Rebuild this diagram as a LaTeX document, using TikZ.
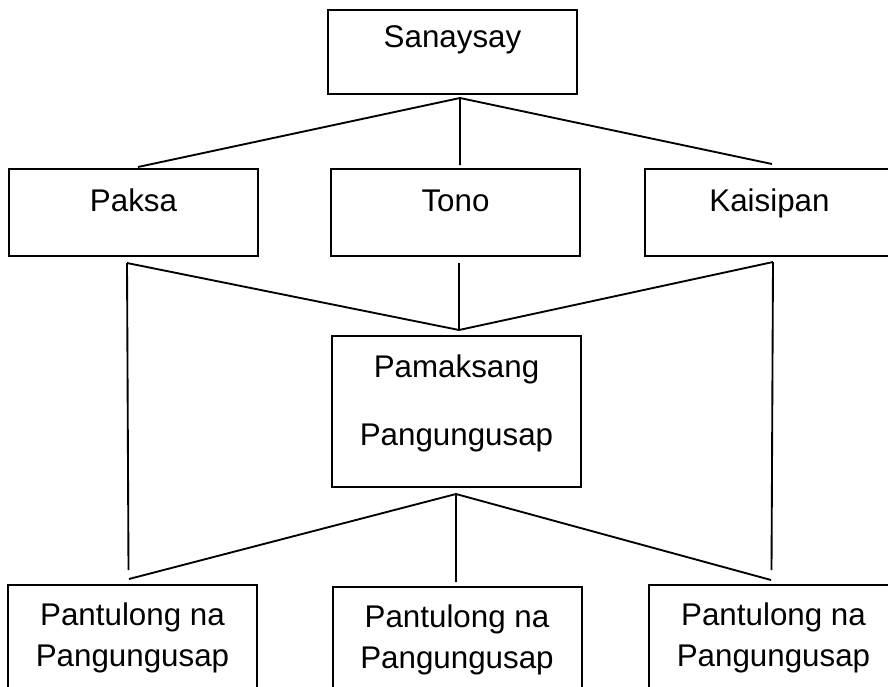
\documentclass[tikz,border=0pt]{standalone}
\usepackage{fontspec}
\setmainfont{Liberation Sans}
\begin{document}
\begin{tikzpicture}[x=0.75pt,y=-0.75pt,line width=1.4pt,
	box/.style={draw,rectangle,anchor=north,line width=1.5pt,minimum width=186.75pt,
		inner sep=0,font=\fontsize{23.5}{30.75}\selectfont},
	midrow/.style={box,text height=31.5pt,text depth=33.75pt},
	lowrow/.style={box,text height=30pt,text depth=57pt}]
\clip (0,0) rectangle (888,686);
\node[box,text height=27.75pt,text depth=35.25pt] (san) at (452.5,9) {Sanaysay};
\node[midrow] (paksa) at (133.5,168) {Paksa};
\node[midrow] (tono) at (455.5,168) {Tono};
\node[midrow] (kaisipan) at (769.5,168) {Kaisipan};
\node[box,text height=30.75pt,text depth=82.5pt] (pam) at (456.5,335)
	{\begin{tabular}[t]{@{}c@{}}Pamaksang\\[20.25pt]Pangungusap\end{tabular}};
\node[lowrow] (pant1) at (132.5,584)
	{\begin{tabular}[t]{@{}c@{}}Pantulong na\\Pangungusap\end{tabular}};
\node[lowrow] (pant2) at (457,586)
	{\begin{tabular}[t]{@{}c@{}}Pantulong na\\Pangungusap\end{tabular}};
\node[lowrow] (pant3) at (773.5,584)
	{\begin{tabular}[t]{@{}c@{}}Pantulong na\\Pangungusap\end{tabular}};
% end points of the connectors
\coordinate (s0) at (460,98);
\coordinate (p1) at (138,167);
\coordinate (t1) at (460,165);
\coordinate (k1) at (772,164);
\coordinate (p2) at (127,263);
\coordinate (t2) at (459,263);
\coordinate (k2) at (773,262);
\coordinate (m1) at (459,330);
\coordinate (m2) at (456,494);
\coordinate (l0) at (128.5,570);
\coordinate (r0) at (771.5,570);
\coordinate (l1) at (129,579);
\coordinate (c1) at (456,582);
\coordinate (r1) at (771,580);
\draw (p1) -- (s0) -- (k1) (s0) -- (t1);
\draw (p2) -- (m1) -- (k2) (t2) -- (m1);
\draw (p2) -- (l0) (k2) -- (r0);
\draw (l1) -- (m2) -- (r1) (m2) -- (c1);
\end{tikzpicture}
\end{document}
